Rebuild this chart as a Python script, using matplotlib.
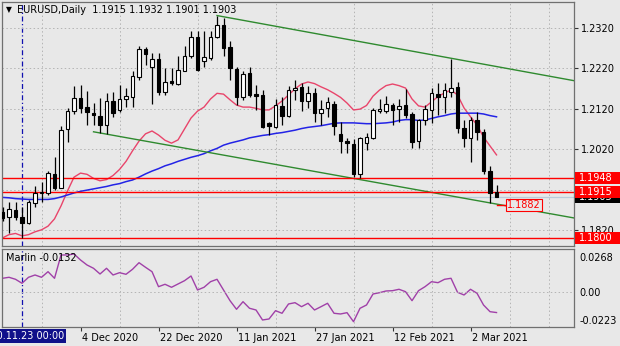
import numpy as np
import matplotlib
matplotlib.use("Agg")
import matplotlib.pyplot as plt
from matplotlib.patches import Rectangle
from matplotlib.transforms import ScaledTranslation

# ---------------- data ----------------
# bar index 0 = 2020.11.23 (daily bars, trading days only)
bars = np.arange(-3, 74)

opens = [1.1866, 1.1852, 1.1871, 1.1853, 1.1837, 1.1886, 1.1911, 1.1911, 1.1960, 1.1925,
         1.2069, 1.2115, 1.2146, 1.2123, 1.2110, 1.2102, 1.2081, 1.2139, 1.2117, 1.2145,
         1.2150, 1.2198, 1.2267, 1.2224, 1.2243, 1.2161, 1.2188, 1.2181, 1.2214, 1.2249,
         1.2298, 1.2237, 1.2245, 1.2298, 1.2327, 1.2272, 1.2219, 1.2150, 1.2208, 1.2156,
         1.2153, 1.2084, 1.2076, 1.2127, 1.2102, 1.2165, 1.2173, 1.2138, 1.2160, 1.2109,
         1.2121, 1.2132, 1.2058, 1.2041, 1.2033, 1.1960, 1.2036, 1.2047, 1.2115, 1.2115,
         1.2129, 1.2119, 1.2129, 1.2107, 1.2040, 1.2091, 1.2118, 1.2157, 1.2150, 1.2162,
         1.2173, 1.2072, 1.2047, 1.2092, 1.2063, 1.1966, 1.1915]
highs = [1.1878, 1.1890, 1.1890, 1.1877, 1.1894, 1.1929, 1.1940, 1.1965, 1.2001, 1.2077,
         1.2121, 1.2177, 1.2178, 1.2164, 1.2134, 1.2147, 1.2160, 1.2162, 1.2179, 1.2171,
         1.2214, 1.2274, 1.2273, 1.2257, 1.2257, 1.2220, 1.2220, 1.2249, 1.2274, 1.2313,
         1.2311, 1.2311, 1.2311, 1.2350, 1.2344, 1.2286, 1.2222, 1.2212, 1.2224, 1.2179,
         1.2165, 1.2086, 1.2144, 1.2150, 1.2176, 1.2191, 1.2183, 1.2176, 1.2170, 1.2142,
         1.2150, 1.2140, 1.2088, 1.2047, 1.2045, 1.2049, 1.2059, 1.2121, 1.2144, 1.2152,
         1.2135, 1.2144, 1.2168, 1.2113, 1.2095, 1.2129, 1.2172, 1.2183, 1.2183, 1.2243,
         1.2185, 1.2092, 1.2100, 1.2113, 1.2069, 1.1978, 1.1932]
lows = [1.1842, 1.1813, 1.1845, 1.1800, 1.1835, 1.1878, 1.1890, 1.1907, 1.1919, 1.1923,
        1.2039, 1.2108, 1.2110, 1.2080, 1.2080, 1.2060, 1.2058, 1.2100, 1.2111, 1.2125,
        1.2125, 1.2191, 1.2228, 1.2132, 1.2154, 1.2154, 1.2179, 1.2179, 1.2212, 1.2245,
        1.2214, 1.2222, 1.2240, 1.2295, 1.2249, 1.2191, 1.2129, 1.2142, 1.2148, 1.2117,
        1.2072, 1.2055, 1.2073, 1.2080, 1.2100, 1.2142, 1.2115, 1.2121, 1.2086, 1.2080,
        1.2100, 1.2055, 1.2010, 1.2010, 1.1952, 1.1950, 1.2018, 1.2045, 1.2109, 1.2110,
        1.2080, 1.2088, 1.2096, 1.2022, 1.2023, 1.2080, 1.2084, 1.2105, 1.2109, 1.2150,
        1.2059, 1.2026, 1.1989, 1.2043, 1.1960, 1.1888, 1.1901]
closes = [1.1851, 1.1872, 1.1853, 1.1837, 1.1890, 1.1912, 1.1914, 1.1962, 1.1925, 1.2068,
          1.2115, 1.2146, 1.2121, 1.2111, 1.2105, 1.2081, 1.2140, 1.2109, 1.2144, 1.2152,
          1.2200, 1.2267, 1.2256, 1.2243, 1.2161, 1.2186, 1.2184, 1.2216, 1.2249, 1.2298,
          1.2216, 1.2247, 1.2298, 1.2327, 1.2270, 1.2220, 1.2150, 1.2206, 1.2154, 1.2152,
          1.2076, 1.2077, 1.2129, 1.2102, 1.2165, 1.2171, 1.2138, 1.2158, 1.2110, 1.2119,
          1.2136, 1.2077, 1.2041, 1.2035, 1.1960, 1.2047, 1.2049, 1.2117, 1.2119, 1.2132,
          1.2117, 1.2127, 1.2105, 1.2039, 1.2091, 1.2119, 1.2158, 1.2150, 1.2167, 1.2171,
          1.2072, 1.2047, 1.2092, 1.2063, 1.1966, 1.1912, 1.1903]

# balance line (red) and slow line (blue)
balance_line = [1.1801, 1.1809, 1.1812, 1.1806, 1.1809, 1.1816, 1.1821, 1.1830, 1.1848, 1.1880,
                1.1917, 1.1951, 1.1961, 1.1958, 1.1948, 1.1942, 1.1945, 1.1955, 1.1970, 1.1990,
                1.2016, 1.2040, 1.2058, 1.2065, 1.2055, 1.2042, 1.2035, 1.2043, 1.2070, 1.2097,
                1.2114, 1.2124, 1.2144, 1.2158, 1.2156, 1.2142, 1.2129, 1.2124, 1.2124, 1.2121,
                1.2117, 1.2117, 1.2127, 1.2139, 1.2154, 1.2169, 1.2181, 1.2186, 1.2182, 1.2174,
                1.2167, 1.2158, 1.2148, 1.2134, 1.2117, 1.2119, 1.2128, 1.2151, 1.2166, 1.2177,
                1.2181, 1.2177, 1.2171, 1.2144, 1.2127, 1.2124, 1.2137, 1.2150, 1.2159, 1.2166,
                1.2154, 1.2122, 1.2100, 1.2080, 1.2050, 1.2028, 1.2006]
slow_line = [1.1901, 1.1900, 1.1898, 1.1897, 1.1896, 1.1896, 1.1896, 1.1896, 1.1898, 1.1902,
             1.1907, 1.1912, 1.1916, 1.1919, 1.1922, 1.1925, 1.1928, 1.1932, 1.1935, 1.1940,
             1.1944, 1.1951, 1.1959, 1.1966, 1.1972, 1.1979, 1.1984, 1.1990, 1.1995, 1.2000,
             1.2004, 1.2009, 1.2016, 1.2022, 1.2030, 1.2035, 1.2039, 1.2043, 1.2048, 1.2051,
             1.2054, 1.2056, 1.2059, 1.2061, 1.2064, 1.2067, 1.2071, 1.2074, 1.2076, 1.2078,
             1.2081, 1.2084, 1.2085, 1.2085, 1.2085, 1.2084, 1.2083, 1.2083, 1.2084, 1.2085,
             1.2087, 1.2091, 1.2093, 1.2093, 1.2091, 1.2092, 1.2096, 1.2100, 1.2103, 1.2107,
             1.2109, 1.2109, 1.2109, 1.2109, 1.2107, 1.2103, 1.2100]

marlin = [0.00836, 0.00899, 0.00773, 0.00522, 0.00899, 0.01044, 0.00899, 0.01252, 0.00836, 0.02303,
          0.02303, 0.02366, 0.01988, 0.01673, 0.01466, 0.01107, 0.01466, 0.01044, 0.01189, 0.01088,
          0.01403, 0.01818, 0.01529, 0.01252, 0.00308, 0.00459, 0.00270, 0.00478, 0.00685, 0.00981,
          0.00100, 0.00270, 0.00622, 0.00773, 0.00100, -0.00573, -0.01115, -0.00636, -0.01052, -0.01159,
          -0.01788, -0.01725, -0.01203, -0.01366, -0.00781, -0.00699, -0.00951, -0.00737, -0.01159, -0.00951,
          -0.00737, -0.01366, -0.01410, -0.01328, -0.01895, -0.01052, -0.00844, -0.00152, -0.00070, 0.00037,
          0.00056, 0.00144, -0.00007, -0.00573, 0.00056, 0.00308, 0.00622, 0.00560, 0.00773, 0.00836,
          -0.00045, -0.00215, 0.00144, -0.00108, -0.00844, -0.01266, -0.0132]

# channel lines: (bar, price) anchors
upper_channel = [(30, 1.2350), (85, 1.2189)]
lower_channel = [(11, 1.2063), (85, 1.1850)]

# horizontal levels and labels
resistance = 1.1948
current_open = 1.1915
support = 1.1800
bid = 1.1903
target = 1.1882
marlin_hi, marlin_lo = 0.0268, -0.0223

date_ticks = [9, 21, 33, 45, 57, 69]
date_labels = ["4 Dec 2020", "22 Dec 2020", "11 Jan 2021", "27 Jan 2021", "12 Feb 2021", "2 Mar 2021"]
price_ticks = [1.1820, 1.1920, 1.2020, 1.2120, 1.2220, 1.2320]
marker_bar = 0
marker_label = "2020.11.23 00:00"

# ---------------- layout ----------------
W, H = 620, 346
BG = "#E8E8E8"
GRID = "#B4B4B4"
SPINE = "#707070"
plt.rcParams["font.family"] = ["DejaVu Sans"]

fig = plt.figure(figsize=(W / 100, H / 100), dpi=100)
fig.patch.set_facecolor(BG)
ax = fig.add_axes([2 / W, 1 - 246 / H, 572 / W, 244 / H])
ax2 = fig.add_axes([2 / W, 1 - 327 / H, 572 / W, 78 / H], sharex=ax)

xlim = (-3.08, 84.92)
for a in (ax, ax2):
    a.set_facecolor(BG)
    for s in a.spines.values():
        s.set_color(SPINE)
        s.set_linewidth(0.9)
    a.set_xticks(np.arange(3, 85, 6), minor=True)
    a.grid(which="minor", axis="x", color=GRID, lw=0.7, ls=(0, (1.5, 2.5)))
    a.tick_params(which="minor", length=0)
ax.set_xlim(*xlim)
ax.set_ylim(1.17810, 1.23835)

# price axis on the right
ax.yaxis.tick_right()
ax.set_yticks(price_ticks)
ax.set_yticklabels([f"{p:.4f}" for p in price_ticks])
ax.tick_params(axis="y", length=3, width=0.8, color="#333333", labelsize=7, pad=2)
ax.tick_params(axis="x", which="major", length=0, labelbottom=False)
ax.grid(which="major", axis="y", color=GRID, lw=0.7, ls=(0, (1.5, 2.5)))

# ---------------- candles ----------------
o = np.array(opens); h = np.array(highs); l = np.array(lows); c = np.array(closes)
ax.vlines(bars, l, h, color="black", lw=0.9, zorder=3)
up = c >= o
body_lo = np.minimum(o, c)
body_h = np.maximum(np.abs(c - o), 0.00006)
ax.bar(bars[up], body_h[up], bottom=body_lo[up], width=0.5, facecolor="white",
       edgecolor="black", lw=0.8, zorder=4)
ax.bar(bars[~up], body_h[~up], bottom=body_lo[~up], width=0.5, facecolor="black",
       edgecolor="black", lw=0.8, zorder=4)

# indicator lines
ax.plot(bars, balance_line, color="#E8456B", lw=1.0, zorder=2)
ax.plot(bars, slow_line, color="#2323E6", lw=1.1, zorder=2)

# channel
for (x0, y0), (x1, y1) in (upper_channel, lower_channel):
    ax.plot([x0, x1], [y0, y1], color="#2F8A2F", lw=1.0, zorder=2, clip_on=True)

# horizontal levels
for lvl in (resistance, current_open, support):
    ax.axhline(lvl, color="#FF0000", lw=1.0, zorder=2)
ax.axhline(bid, color="#B9CCDA", lw=0.9, zorder=1)

# target price tag
ax.plot([73.1, 74.6], [target, target], color="#FF0000", lw=1.0, zorder=5)
ax.text(74.65, target, f"{target:.4f}", color="#FF0000", fontsize=7, va="center", ha="left",
        zorder=6, bbox=dict(boxstyle="square,pad=0.12", fc=BG, ec="#FF0000", lw=0.8))

# marker line
for a in (ax, ax2):
    a.axvline(marker_bar, color="#1010B0", lw=0.9, ls=(0, (4, 2, 1, 2)), zorder=1)

# ---------------- right side price labels ----------------
def price_box(level, face, text, z):
    yd = ax.transData.transform((0, level))[1]
    yf = yd / fig.bbox.height
    hh = 12 / H
    fig.patches.append(Rectangle((575 / W, yf - hh / 2), 1 - 575 / W, hh,
                                 transform=fig.transFigure, facecolor=face,
                                 edgecolor=face, lw=0, zorder=z))
    fig.text(579 / W, yf, text, color="white", fontsize=7, va="center", ha="left",
             zorder=z + 0.5)

price_box(bid, "black", f"{bid:.4f}", 10)
price_box(resistance, "#FF0000", f"{resistance:.4f}", 11)
price_box(current_open, "#FF0000", f"{current_open:.4f}", 12)
price_box(support, "#FF0000", f"{support:.4f}", 13)

# ---------------- oscillator panel ----------------
ax2.plot(bars, marlin, color="#A040A8", lw=1.0)
ax2.set_ylim(marlin_lo, marlin_hi)
ax2.axhline(0, color=GRID, lw=0.7, ls=(0, (1.5, 2.5)))
ax2.yaxis.tick_right()
ax2.set_yticks([marlin_lo, 0.0, marlin_hi])
ax2.set_yticklabels([f"{marlin_lo:.4f}", "0.00", f"{marlin_hi:.4f}"])
ax2.tick_params(axis="y", length=0, labelsize=7, pad=4)
shifts = [6.5, 0, -8]
for lab, dy in zip(ax2.get_yticklabels(), shifts):
    lab.set_transform(lab.get_transform() + ScaledTranslation(0, dy / 100, fig.dpi_scale_trans))

ax2.set_xticks(date_ticks)
ax2.set_xticklabels(date_labels)
ax2.tick_params(axis="x", which="major", length=3, width=0.8, color="#333333",
                labelsize=7, pad=1.5)
for lab in ax2.get_xticklabels():
    lab.set_horizontalalignment("left")
    lab.set_transform(lab.get_transform() + ScaledTranslation(1 / 100, 0, fig.dpi_scale_trans))

# ---------------- titles ----------------
fig.text(6 / W, 1 - 10 / H, "\u25BC", fontsize=5.5, va="center", ha="left", color="black")
fig.text(17 / W, 1 - 10 / H,
         f"EURUSD,Daily  {current_open:.4f} {highs[-1]:.4f} {lows[-1]:.4f} {closes[-1]:.4f}",
         fontsize=7, va="center", ha="left", color="black")
fig.text(6 / W, 1 - 258 / H, f"Marlin {marlin[-1]:.4f}", fontsize=7, va="center",
         ha="left", color="black")

# time marker label at the bottom
mx = ax2.transData.transform((marker_bar, 0))[0]
fig.patches.append(Rectangle((0, 1 - 343 / H), (mx + 44) / W, 14 / H, transform=fig.transFigure,
                             facecolor="#10108A", edgecolor="none", zorder=10))
fig.text((mx + 42) / W, 1 - 336 / H, marker_label, color="white", fontsize=7, va="center",
         ha="right", zorder=11)

fig.savefig("out.png", dpi=100, facecolor=BG)
